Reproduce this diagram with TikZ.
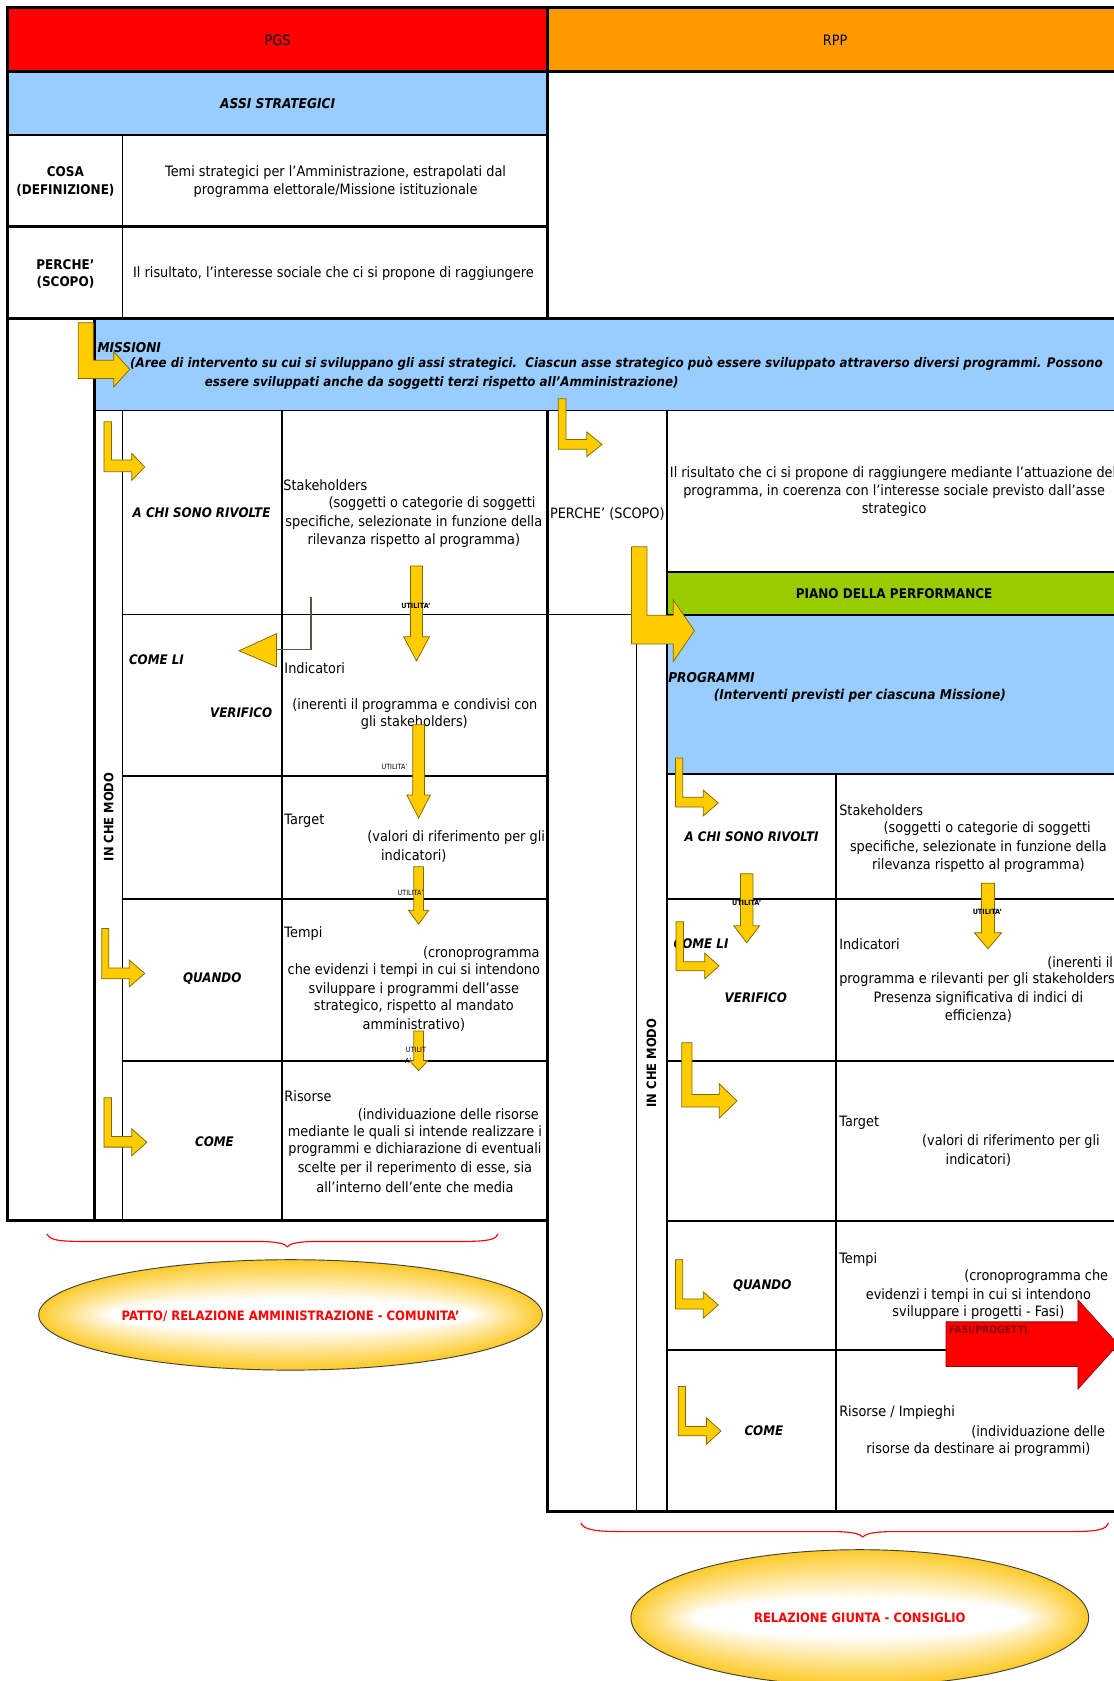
\documentclass[tikz,border=0pt]{standalone}
\usepackage{fontspec}
\setmainfont{DejaVu Sans}[FakeStretch=0.9]
\definecolor{pgsred}{HTML}{FF0000}
\definecolor{rppor}{HTML}{FF9900}
\definecolor{lblue}{HTML}{99CCFF}
\definecolor{lgreen}{HTML}{99CC00}
\definecolor{ayel}{HTML}{FFCC00}
\definecolor{aedge}{HTML}{7F6A00}
\definecolor{egold}{HTML}{FDCB2C}
\definecolor{dred}{HTML}{8B0000}
\newcommand{\mysz}{\fontsize{7.6}{9.5}\selectfont}
\newcommand{\mybsz}{\fontsize{7.1}{9.5}\selectfont}
\newcommand{\LArr}[9]{\filldraw[arrowfill] (#1,#3) -- (#2,#3) -- (#2,#4) -- (#6,#4) -- (#6,#8) -- (#7,{(#8+#9)/2}) -- (#6,#9) -- (#6,#5) -- (#1,#5) -- cycle;}
\newcommand{\DArr}[6]{\filldraw[arrowfill] ({#1-#2},#3) -- ({#1+#2},#3) -- ({#1+#2},#4) -- ({#1+#5},#4) -- (#1,#6) -- ({#1-#5},#4) -- ({#1-#2},#4) -- cycle;}
\newcommand{\GoldEll}[4]{%
  \foreach \myI in {0,...,24}{%
    \pgfmathsetmacro{\myT}{\myI/24}%
    \pgfmathsetmacro{\myP}{100*(1-\myT)}%
    \pgfmathsetmacro{\myRX}{#3*(1-0.28*\myT)}%
    \pgfmathsetmacro{\myRY}{#4*(1-0.72*\myT)}%
    \fill[egold!\myP!white] (#1,#2) ellipse [x radius=\myRX cm, y radius=\myRY cm];
  }%
  \draw[black!75, line width=0.5pt] (#1,#2) ellipse [x radius=#3cm, y radius=#4cm];}
\begin{document}
\begin{tikzpicture}[x=0.02cm,y=-0.02cm,
  brd/.style={line width=1.6pt},
  thk/.style={line width=1.2pt},
  med/.style={line width=0.9pt},
  thn/.style={line width=0.6pt},
  body/.style={font=\mysz, inner sep=0pt, align=center},
  bodyb/.style={font=\mybsz\bfseries, inner sep=0pt, align=center},
  bi/.style={font=\fontsize{7.2}{9.5}\selectfont\bfseries\itshape, inner sep=0pt},
  lbl/.style={font=\fontsize{7}{9}\selectfont\bfseries\itshape, inner sep=0pt},
  utilb/.style={font=\fontsize{3.8}{4.2}\selectfont\bfseries, inner sep=0pt},
  utilr/.style={font=\fontsize{3.8}{4.2}\selectfont, inner sep=0pt},
  arrowfill/.style={fill=ayel, draw=aedge, line width=0.4pt},
  brace/.style={draw=red, line width=0.6pt},
  elltxt/.style={font=\fontsize{6.85}{8}\selectfont\bfseries, text=red, inner sep=0pt}]
\useasboundingbox (0,0) rectangle (1039,1568);
\clip (0,0) rectangle (1039,1568);
% ---------- fills
\fill[pgsred] (7,7) rectangle (511,67);
\fill[rppor] (511,7) rectangle (1050,67);
\fill[lblue] (7,67) rectangle (511,126);
\fill[lblue] (88,297) rectangle (1050,383);
\fill[lgreen] (622,533.5) rectangle (1050,573.6);
\fill[lblue] (622,573.6) rectangle (1050,722);
% ---------- lines
\draw[brd] (1050,7) -- (7,7) -- (7,1138.6) -- (511,1138.6);
\draw[brd] (511,1138.6) -- (511,1410) -- (1050,1410);
\draw[brd] (7,67) -- (1050,67);
\draw[brd] (511,7) -- (511,297);
\draw[thk] (7,126) -- (511,126);
\draw[brd] (7,211.5) -- (511,211.5);
\draw[thn] (114,126) -- (114,297);
\draw[brd] (7,297) -- (1050,297);
\draw[brd] (88,297) -- (88,1138.6);
\draw[thn] (88,383) -- (1050,383);
\draw[thn] (114,383) -- (114,1138.6);
\draw[thk] (263,383) -- (263,1138.6);
\draw[brd] (511,383) -- (511,1138.6);
\draw[thn] (114,573) -- (594,573);
\draw[thk] (114,723.5) -- (511,723.5);
\draw[thn] (114,838.5) -- (511,838.5);
\draw[thk] (114,989.5) -- (511,989.5);
% RPP grid
\draw[med] (622,383) -- (622,1410);
\draw[thn] (594,573) -- (594,1410);
\draw[thk] (780,722) -- (780,1410);
\draw[thk] (622,533.5) -- (1050,533.5);
\draw[thn] (622,573.6) -- (1050,573.6);
\draw[thk] (622,722) -- (1050,722);
\draw[thn] (622,838.5) -- (1050,838.5);
\draw[thk] (622,989.5) -- (1050,989.5);
\draw[thk] (622,1138.6) -- (1050,1138.6);
\draw[thk] (622,1259) -- (1050,1259);
% ---------- header texts
\node[body] (pgs) at (259,38) {PGS};
\node[body] (rpp) at (779,38) {RPP};
\node[bi] (assi) at (259,97) {ASSI STRATEGICI};
\node[bodyb] (cosa) at (61,169) {COSA\\(DEFINIZIONE)};
\node[body] (temi) at (313,169) {Temi strategici per l'Amministrazione, estrapolati dal\\programma elettorale/Missione istituzionale};
\node[bodyb] (perche) at (61,255.5) {PERCHE'\\(SCOPO)};
\node[body] (risult) at (311,255) {Il risultato, l'interesse sociale che ci si propone di raggiungere};
% ---------- MISSIONI
\node[bi, anchor=west] (miss) at (90.6,324) {MISSIONI};
\node[bi, font=\fontsize{7.0}{9}\selectfont\bfseries\itshape] (aree1) at (575,339.5) {(Aree di intervento su cui si sviluppano gli assi strategici.\ \ Ciascun asse strategico può essere sviluppato attraverso diversi programmi. Possono};
\node[bi, font=\fontsize{7.0}{9}\selectfont\bfseries\itshape] (aree2) at (412,357) {essere sviluppati anche da soggetti terzi rispetto all'Amministrazione)};
% ---------- PGS left section
\node[lbl] (achi) at (188,478.6) {A CHI SONO RIVOLTE};
\node[body, anchor=west] (stk) at (264,453) {Stakeholders};
\node[body] (stk1) at (403,470) {(soggetti o categorie di soggetti};
\node[body] (stk2) at (386,487) {specifiche, selezionate in funzione della};
\node[body] (stk3) at (386,504.5) {rilevanza rispetto al programma)};
\node[lbl, anchor=west] (comeli) at (120,615.5) {COME LI};
\node[body, anchor=west] (ind) at (265,623) {Indicatori};
\node[lbl] (verif) at (225,665) {VERIFICO};
\node[body] (ind1) at (387,658) {(inerenti il programma e condivisi con};
\node[body] (ind2) at (386.5,673.6) {gli stakeholders)};
\node[body, anchor=west] (tgt) at (265,765.5) {Target};
\node[body] (tgt1) at (425.5,781.5) {(valori di riferimento per gli};
\node[body] (tgt2) at (386,798) {indicatori)};
\node[font=\fontsize{6.8}{8}\selectfont\bfseries, inner sep=0pt, rotate=90] (icm) at (101.5,762) {IN CHE MODO};
\node[body, anchor=west] (tmp) at (265,871) {Tempi};
\node[body, anchor=east] (tmp1) at (503.6,889) {(cronoprogramma};
\node[body] (tmp2) at (386,905.6) {che evidenzi i tempi in cui si intendono};
\node[body] (tmp3) at (386,922.6) {sviluppare i programmi dell'asse};
\node[body] (tmp4) at (386,939) {strategico, rispetto al mandato};
\node[body] (tmp5) at (386,956) {amministrativo)};
\node[lbl] (quando) at (198,913) {QUANDO};
\node[body, anchor=west] (ris) at (265,1022) {Risorse};
\node[body, anchor=east] (ris1) at (503,1040) {(individuazione delle risorse};
\node[body] (ris2) at (387,1056) {mediante le quali si intende realizzare i};
\node[body] (ris3) at (387,1072.6) {programmi e dichiarazione di eventuali};
\node[body] (ris4) at (387,1089.6) {scelte per il reperimento di esse, sia};
\node[body] (ris5) at (387,1107) {all'interno dell'ente che media};
\node[lbl] (come) at (200,1065) {COME};
% ---------- RPP section
\node[body] (rperche) at (566.5,479.5) {PERCHE' (SCOPO)};
\node[body] (rr1) at (833,442) {Il risultato che ci si propone di raggiungere mediante l'attuazione del};
\node[body] (rr2) at (834,458.6) {programma, in coerenza con l'interesse sociale previsto dall'asse};
\node[body] (rr3) at (834,475.7) {strategico};
\node[bodyb] (piano) at (834,554) {PIANO DELLA PERFORMANCE};
\node[bi, anchor=west] (progr) at (623,631.6) {PROGRAMMI};
\node[bi] (progr1) at (802,649) {(Interventi previsti per ciascuna Missione)};
\node[lbl] (rachi) at (701,780.6) {A CHI SONO RIVOLTI};
\node[body, anchor=west] (rstk) at (782.5,756) {Stakeholders};
\node[body] (rstk1) at (920.8,773) {(soggetti o categorie di soggetti};
\node[body] (rstk2) at (912.6,790.6) {specifiche, selezionate in funzione della};
\node[body] (rstk3) at (912.6,807.8) {rilevanza rispetto al programma)};
\node[lbl, anchor=west] (rcomeli) at (628,880.7) {COME LI};
\node[lbl] (rverif) at (705,930.6) {VERIFICO};
\node[body, anchor=west] (rind) at (782.5,880.7) {Indicatori};
\node[body, anchor=west] (rind1) at (976.5,898) {(inerenti il};
\node[body, anchor=west] (rind2) at (782.5,914) {programma e rilevanti per gli stakeholders};
\node[body] (rind3) at (912.6,931) {Presenza significativa di indici di};
\node[body] (rind4) at (912.6,948) {efficienza)};
\node[font=\fontsize{6.8}{8}\selectfont\bfseries, inner sep=0pt, rotate=90] (ricm) at (607.7,991.6) {IN CHE MODO};
\node[body, anchor=west] (rtgt) at (782.5,1047.6) {Target};
\node[body] (rtgt1) at (943,1065) {(valori di riferimento per gli};
\node[body] (rtgt2) at (912.6,1082) {indicatori)};
\node[lbl] (rquando) at (711,1199.4) {QUANDO};
\node[body, anchor=west] (rtmp) at (782.5,1175) {Tempi};
\node[body, anchor=east] (rtmp1) at (1034,1191) {(cronoprogramma che};
\node[body] (rtmp2) at (912.6,1208.5) {evidenzi i tempi in cui si intendono};
\node[body] (rtmp3) at (912.6,1224.6) {sviluppare i progetti - Fasi)};
\node[lbl] (rcome) at (712.5,1334.6) {COME};
\node[body, anchor=west] (rris) at (782.5,1318) {Risorse / Impieghi};
\node[body, anchor=east] (rris1) at (1031,1335.6) {(individuazione delle};
\node[body] (rris2) at (912.6,1352.4) {risorse da destinare ai programmi)};
% ---------- yellow L arrows
\LArr{73}{87}{301}{336}{353}{106}{121}{328}{361}
\LArr{97}{104}{393.5}{429}{440}{123}{135}{423}{448}
\LArr{95}{101.5}{866}{903}{913}{120.6}{135}{895.5}{920.5}
\LArr{97}{104}{1024}{1060}{1070}{123}{137}{1053}{1078}
\LArr{520.7}{528}{372}{410}{419}{547.4}{561.6}{403}{426}
\LArr{589}{603.4}{510}{574}{600.6}{628}{647.7}{559.6}{617}
\LArr{630}{636.8}{707}{743.6}{752.8}{656}{670}{737}{761}
\LArr{630.6}{637.5}{859.7}{897}{905.5}{657.3}{670.8}{889}{913}
\LArr{636}{645.4}{972.6}{1021}{1032.6}{671}{687.4}{1011}{1042.8}
\LArr{630}{636.8}{1175}{1211.6}{1221}{656}{670}{1205}{1229.5}
\LArr{632.6}{639.5}{1293.3}{1330.6}{1339.3}{659}{672.5}{1322.6}{1347}
% ---------- yellow down arrows (UTILITA')
\DArr{388.5}{5.5}{528}{594}{12}{616.5}
\DArr{390.5}{5.5}{676}{741.5}{11}{763}
\DArr{390.5}{4.5}{808.5}{849}{9.5}{862}
\DArr{390.5}{4.5}{961.6}{989.5}{8.5}{998.6}
\DArr{696.5}{5.8}{815}{863.6}{12}{879.4}
\DArr{921.6}{6}{823.8}{870}{12.7}{885}
% ---------- bent connector with left triangle head
\coordinate (k1) at (290,557);
\coordinate (k2) at (290,606);
\coordinate (k3) at (258,606);
\draw[line width=0.8pt, draw=black!75!yellow] (k1) -- (k2) -- (k3);
\filldraw[arrowfill] (258,591) -- (223,607) -- (258,622) -- cycle;
% ---------- UTILITA' labels
\node[utilb] (u1) at (388,565) {UTILITA'};
\node[utilr] (u2) at (368,715) {UTILITA'};
\node[utilr] (u3) at (383,833) {UTILITA'};
\node[utilr] (u4a) at (388,979) {UTILIT};
\node[utilr] (u4b) at (381,990) {A'};
\node[utilb] (u5) at (696.5,842) {UTILITA'};
\node[utilb] (u6) at (921,850.8) {UTILITA'};
% ---------- red block arrow
\filldraw[fill=red, draw=red!60!black, line width=0.4pt] (882.5,1233) -- (1005.5,1233) -- (1005.5,1212.5) -- (1043,1254) -- (1005.5,1295.6) -- (1005.5,1274.6) -- (882.5,1274.6) -- cycle;
\node[font=\fontsize{5.5}{6}\selectfont\bfseries, text=dred, inner sep=0pt, anchor=west] (fasi) at (885,1241) {FASI/PROGETTI};
% ---------- braces
\draw[brace] (44,1151) .. controls (46,1157) and (56,1158) .. (80,1158) -- (240,1158) .. controls (258,1158) and (266,1160) .. (268,1163) .. controls (270,1160) and (278,1158) .. (296,1158) -- (430,1158) .. controls (456,1158) and (463,1156) .. (464.6,1151);
\draw[brace] (542,1420.6) .. controls (544,1427) and (556,1428.6) .. (580,1428.6) -- (776,1428.6) .. controls (796,1428.6) and (802,1431) .. (804.7,1433.6) .. controls (807,1431) and (814,1428.6) .. (834,1428.6) -- (1000,1428.6) .. controls (1026,1428.6) and (1032,1426) .. (1034,1420.6);
% ---------- ellipses
\GoldEll{271}{1226.5}{4.7}{1.03}
\node[elltxt] (patto) at (271,1227.5) {PATTO/ RELAZIONE AMMINISTRAZIONE - COMUNITA'};
\GoldEll{802}{1509}{4.27}{1.27}
\node[elltxt] (giunta) at (802,1509) {RELAZIONE GIUNTA - CONSIGLIO};
\end{tikzpicture}
\end{document}
